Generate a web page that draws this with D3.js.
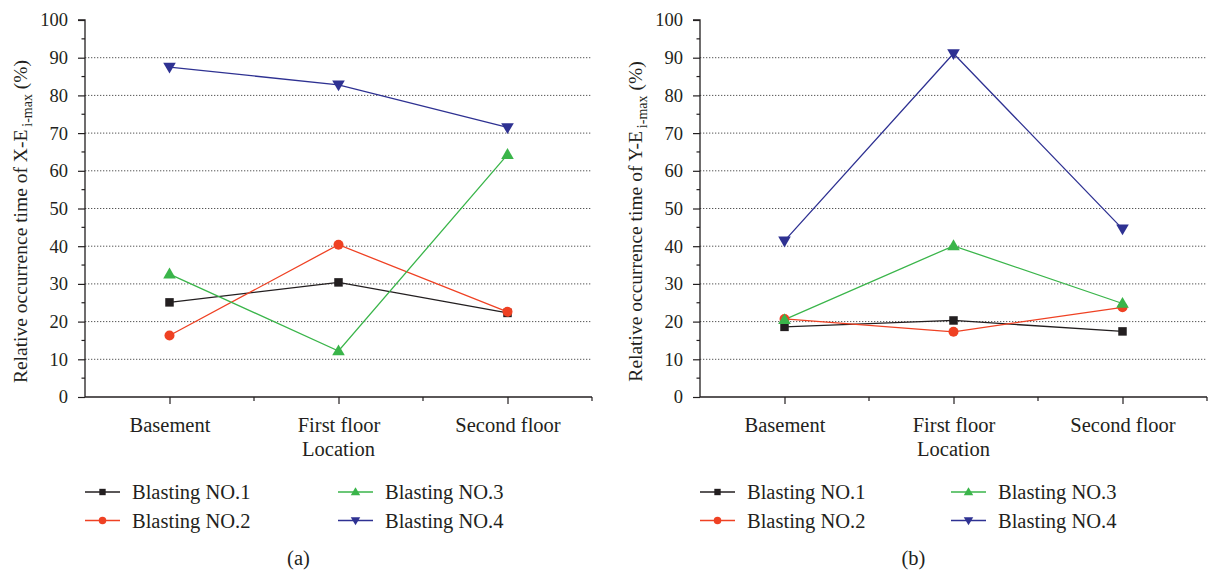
<!DOCTYPE html>
<html><head><meta charset="utf-8">
<script src="https://cdn.jsdelivr.net/npm/d3@7"></script>
<style>
body{margin:0;background:#fff;}
svg text{font-family:"Liberation Serif","Times New Roman",serif;fill:#231f20;}
</style></head>
<body><svg id="chart" width="1208" height="572"></svg>
<script>
const categories = ["Basement", "First floor", "Second floor"];
const seriesNames = ["Blasting NO.1", "Blasting NO.2", "Blasting NO.3", "Blasting NO.4"];
const yTicks = [0, 10, 20, 30, 40, 50, 60, 70, 80, 90, 100];
// Panel (a): X-E i-max
const a_no1 = [25.1, 30.4, 22.3];
const a_no2 = [16.3, 40.4, 22.6];
const a_no3 = [32.6, 12.2, 64.3];
const a_no4 = [87.5, 82.8, 71.5];
// Panel (b): Y-E i-max
const b_no1 = [18.6, 20.3, 17.4];
const b_no2 = [20.7, 17.3, 23.8];
const b_no3 = [20.5, 40.1, 24.8];
const b_no4 = [41.4, 91.1, 44.6];

const colors = ["#231f20", "#ef4123", "#3ab54a", "#2e3192"];
const markers = ["square", "circle", "up", "down"];

const svg = d3.select("#chart");

function markerPath(type, s) {
  if (type === "square") return `M${-s/2},${-s/2}h${s}v${s}h${-s}Z`;
  if (type === "circle") { const r = s/2; return `M${-r},0a${r},${r} 0 1,0 ${2*r},0a${r},${r} 0 1,0 ${-2*r},0Z`; }
  const h = s * 0.9, w = s * 1.05;
  if (type === "up") return `M0,${-h*0.6}L${w/2},${h*0.4}L${-w/2},${h*0.4}Z`;
  return `M0,${h*0.6}L${w/2},${-h*0.4}L${-w/2},${-h*0.4}Z`;
}

const markerSize = [8.5, 10, 12, 12];

function panel(cfg) {
  const {x0, x1, series, axisChar, label, legendX, legendX2} = cfg;
  const yTop = 20, yBot = 397;
  const g = svg.append("g");
  const x = d3.scalePoint().domain(categories).range([x0, x1]).padding(0.5);
  const xl = d3.scaleLinear().domain([0, 3]).range([x0, x1]);
  const y = d3.scaleLinear().domain([0, 100]).range([yBot, yTop]);

  // gridlines
  g.selectAll("line.grid").data(yTicks.filter(d => d > 0 && d < 100)).join("line")
    .attr("x1", x0).attr("x2", x1).attr("y1", d => y(d)).attr("y2", d => y(d))
    .attr("stroke", "#555").attr("stroke-width", 1).attr("stroke-dasharray", "1.3,1.7");

  // y minor ticks
  const yMinor = d3.range(5, 100, 10);
  g.selectAll("line.ym").data(yMinor).join("line")
    .attr("x1", x0 - 3.5).attr("x2", x0).attr("y1", d => y(d)).attr("y2", d => y(d))
    .attr("stroke", "#231f20").attr("stroke-width", 1.2);
  // x minor ticks
  g.selectAll("line.xm").data([1, 2, 3]).join("line")
    .attr("x1", d => xl(d)).attr("x2", d => xl(d)).attr("y1", yBot).attr("y2", yBot + 4)
    .attr("stroke", "#231f20").attr("stroke-width", 1.2);

  // y axis
  const ya = g.append("g").attr("transform", `translate(${x0},0)`)
    .call(d3.axisLeft(y).tickValues(yTicks).tickSize(7).tickPadding(10));
  ya.select(".domain").attr("stroke", "#231f20").attr("stroke-width", 1.3).attr("d", `M-7,${yTop}H0V${yBot}`);
  ya.selectAll(".tick line").attr("stroke", "#231f20").attr("stroke-width", 1.2);
  ya.selectAll("text").attr("font-size", 18.5).attr("font-family", "Liberation Serif").attr("fill", "#231f20");

  // x axis
  const xa = g.append("g").attr("transform", `translate(0,${yBot})`)
    .call(d3.axisBottom(x).tickSize(7).tickPadding(13));
  xa.select(".domain").attr("stroke", "#231f20").attr("stroke-width", 1.3).attr("d", `M${x0},0H${x1}`);
  xa.selectAll(".tick line").attr("stroke", "#231f20").attr("stroke-width", 1.2);
  xa.selectAll("text").attr("font-size", 20.5).attr("font-family", "Liberation Serif").attr("fill", "#231f20");

  // x title
  g.append("text").attr("x", (x0 + x1) / 2).attr("y", 456).attr("text-anchor", "middle")
    .attr("font-size", 20.5).text("Location");

  // y title
  const yt = g.append("text").attr("transform", `translate(${x0 - 58},${(yTop + yBot) / 2 + 13}) rotate(-90)`)
    .attr("text-anchor", "middle").attr("font-size", 19.5);
  yt.append("tspan").text(`Relative occurrence time of ${axisChar}-E`);
  yt.append("tspan").attr("font-size", 14).attr("dy", 5).attr("dx", 3).text("i-max");
  yt.append("tspan").attr("dy", -5).text(" (%)");

  // series
  const line = d3.line().x((d, i) => x(categories[i])).y(d => y(d));
  series.forEach((vals, si) => {
    g.append("path").datum(vals).attr("d", line).attr("fill", "none")
      .attr("stroke", colors[si]).attr("stroke-width", 1.3);
  });
  series.forEach((vals, si) => {
    g.selectAll(null).data(vals).join("path")
      .attr("transform", (d, i) => `translate(${x(categories[i])},${y(d)})`)
      .attr("d", markerPath(markers[si], markerSize[si]))
      .attr("fill", colors[si]);
  });

  // legend
  const lg = g.append("g");
  seriesNames.forEach((name, si) => {
    const col = si < 2 ? 0 : 1;
    const row = si % 2;
    const lx = col === 0 ? legendX : legendX2;
    const ly = 492 + row * 28.5;
    lg.append("line").attr("x1", lx).attr("x2", lx + 35).attr("y1", ly).attr("y2", ly)
      .attr("stroke", colors[si]).attr("stroke-width", 1.3);
    lg.append("path").attr("transform", `translate(${lx + 17.5},${ly})`)
      .attr("d", markerPath(markers[si], markerSize[si] * 0.75)).attr("fill", colors[si]);
    lg.append("text").attr("x", lx + 47).attr("y", ly + 7).attr("font-size", 20.5).text(name);
  });

  g.append("text").attr("x", (x0 + x1) / 2 - 40).attr("y", 565).attr("text-anchor", "middle")
    .attr("font-size", 20.5).text(label);
}

panel({x0: 85, x1: 592, series: [a_no1, a_no2, a_no3, a_no4], axisChar: "X", label: "(a)", legendX: 85, legendX2: 338});
panel({x0: 700, x1: 1207, series: [b_no1, b_no2, b_no3, b_no4], axisChar: "Y", label: "(b)", legendX: 700, legendX2: 951});
</script></body></html>
